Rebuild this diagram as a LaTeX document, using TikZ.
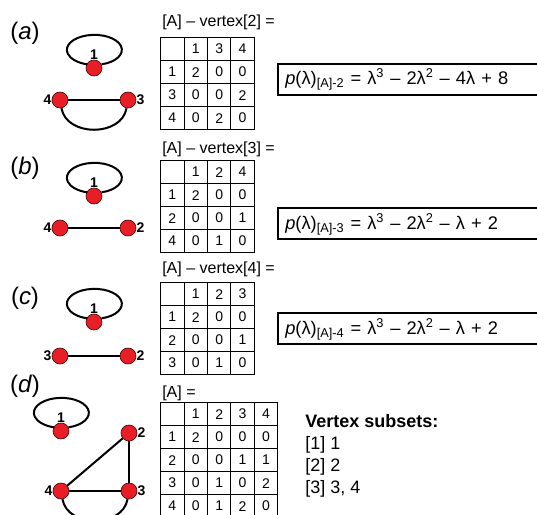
\documentclass[tikz,border=0pt]{standalone}
\usepackage{fontspec}
\setmainfont{Liberation Sans}
\usetikzlibrary{matrix}
\definecolor{vred}{RGB}{232,30,38}
\tikzset{
	vtx/.style={circle, fill=vred, draw=black!70!vred, line width=0.5pt, minimum size=12pt, inner sep=0pt, label distance=2pt},
	vlab/.style={font=\fontsize{10.5}{11}\selectfont\bfseries, inner sep=0pt},
	edge/.style={line width=1.5pt},
	adjmat/.style={matrix of nodes, nodes in empty cells, inner sep=0pt, column sep=-0.6pt, row sep=-0.6pt,
		nodes={draw, line width=0.6pt, minimum width=17.55pt, minimum height=17.25pt, inner sep=0pt, anchor=center, font=\fontsize{10.5}{12}\selectfont}},
	ttl/.style={anchor=west, inner sep=0pt, font=\fontsize{12}{14}\selectfont},
	panel/.style={inner sep=0pt, font=\fontsize{18}{20}\selectfont},
	charpoly/.style={draw, line width=1.5pt, anchor=west, minimum height=23.25pt, text width=300pt, inner xsep=5.5pt, align=left, font=\fontsize{13.7}{16}\selectfont}
}
\def\selfloop(#1){\draw[edge] (#1.26) arc[start angle=-75, end angle=255, x radius=27.5, y radius=15];}
\def\underarc(#1)(#2){\draw[edge] (#1) to[out=-80,in=-100,looseness=1.15] (#2);}

\begin{document}
\begin{tikzpicture}[x=0.75pt, y=0.75pt]
	%%%%% START %%%%%
	\useasboundingbox (0, 0) rectangle (537, 515);
	\clip (0, 0) rectangle (537, 515);
	
	\node[panel] (la) at (25, 482) {(\textit{a})};
	\node[vtx, label={[vlab]above:1}] (n1a) at (94, 447) {};
	\node[vtx, label={[vlab]left:4}] (n4a) at (60, 415) {};
	\node[vtx, label={[vlab]right:3}] (n3a) at (128, 415) {};
	\selfloop(n1a)
	\draw[edge] (n4a) -- (n3a);
	\underarc(n4a)(n3a)
	\node[ttl] (ha) at (162, 493) {[A] – vertex[2] =};
	\matrix (ma) [adjmat, anchor=north west] at (160, 478) {
		& 1 & 3 & 4 \\
		1 & 2 & 0 & 0 \\
		3 & 0 & 0 & 2 \\
		4 & 0 & 2 & 0 \\
	};
	\node[charpoly] (pa) at (277, 435.5) {\textit{p}(λ)\textsubscript{[A]-2} = λ\textsuperscript{3} – 2λ\textsuperscript{2} – 4λ + 8};
	
	\node[panel] (lb) at (25, 347) {(\textit{b})};
	\node[vtx, label={[vlab]above:1}] (n1b) at (94, 319) {};
	\node[vtx, label={[vlab]left:4}] (n4b) at (60, 287) {};
	\node[vtx, label={[vlab]right:2}] (n2b) at (128, 287) {};
	\selfloop(n1b)
	\draw[edge] (n4b) -- (n2b);
	\node[ttl] (hb) at (162, 366) {[A] – vertex[3] =};
	\matrix (mb) [adjmat, anchor=north west] at (160, 355) {
		& 1 & 2 & 4 \\
		1 & 2 & 0 & 0 \\
		2 & 0 & 0 & 1 \\
		4 & 0 & 1 & 0 \\
	};
	\node[charpoly] (pb) at (277, 291) {\textit{p}(λ)\textsubscript{[A]-3} = λ\textsuperscript{3} – 2λ\textsuperscript{2} – λ + 2};
	
	\node[panel] (lc) at (25, 217) {(\textit{c})};
	\node[vtx, label={[vlab]above:1}] (n1c) at (94, 193) {};
	\node[vtx, label={[vlab]left:3}] (n3c) at (60, 159) {};
	\node[vtx, label={[vlab]right:2}] (n2c) at (128, 159) {};
	\selfloop(n1c)
	\draw[edge] (n3c) -- (n2c);
	\node[ttl] (hc) at (162, 246) {[A] – vertex[4] =};
	\matrix (mc) [adjmat, anchor=north west] at (160, 233) {
		& 1 & 2 & 3 \\
		1 & 2 & 0 & 0 \\
		2 & 0 & 0 & 1 \\
		3 & 0 & 1 & 0 \\
	};
	\node[charpoly] (pc) at (277, 186) {\textit{p}(λ)\textsubscript{[A]-4} = λ\textsuperscript{3} – 2λ\textsuperscript{2} – λ + 2};
	
	\node[panel] (ld) at (25, 129) {(\textit{d})};
	\node[vtx, label={[vlab]above:1}] (n1d) at (61, 84) {};
	\node[vtx, label={[vlab]right:2}] (n2d) at (129, 82) {};
	\node[vtx, label={[vlab]right:3}] (n3d) at (129, 24) {};
	\node[vtx, label={[vlab]left:4}] (n4d) at (61, 24) {};
	\selfloop(n1d)
	\draw[edge] (n4d) -- (n2d);
	\draw[edge] (n2d) -- (n3d);
	\draw[edge] (n4d) -- (n3d);
	\underarc(n4d)(n3d)
	\node[ttl] (hd) at (162, 122) {[A] =};
	\matrix (md) [adjmat, anchor=north west] at (160, 113) {
		& 1 & 2 & 3 & 4 \\
		1 & 2 & 0 & 0 & 0 \\
		2 & 0 & 0 & 1 & 1 \\
		3 & 0 & 1 & 0 & 2 \\
		4 & 0 & 1 & 2 & 0 \\
	};
	\node[anchor=north west, align=left, inner sep=0pt, font=\fontsize{13.5}{16.5}\selectfont] (subs) at (305, 101) {\textbf{Vertex subsets:}\\{}[1] 1\\{}[2] 2\\{}[3] 3, 4};
	%%%%% END %%%%%
\end{tikzpicture}
\end{document}
